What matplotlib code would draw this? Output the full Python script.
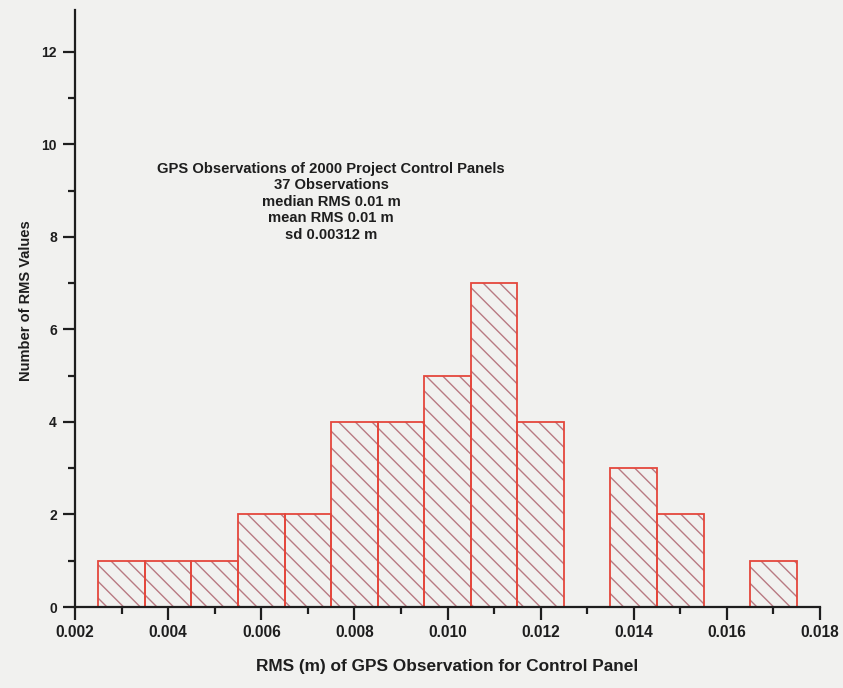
import matplotlib.pyplot as plt
from matplotlib.ticker import MultipleLocator

# RMS histogram of GPS observations (bin centres in metres, counts per bin)
bin_centres = [0.003, 0.004, 0.005, 0.006, 0.007, 0.008, 0.009, 0.010,
               0.011, 0.012, 0.013, 0.014, 0.015, 0.016, 0.017]
counts = [1, 1, 1, 2, 2, 4, 4, 5, 7, 4, 0, 3, 2, 0, 1]
bin_width = 0.001

summary = ["GPS Observations of 2000 Project Control Panels",
           "37 Observations",
           "median RMS 0.01 m",
           "mean RMS 0.01 m",
           "sd 0.00312 m"]

plt.rcParams['font.family'] = ['Liberation Sans', 'DejaVu Sans']
plt.rcParams['hatch.linewidth'] = 1.0

bg = '#f1f1ef'
ink = '#1e1e1e'
fig = plt.figure(figsize=(8.43, 6.88), dpi=100, facecolor=bg)
ax = fig.add_axes([0.089, 0.1177, 0.8837, 0.8677])
ax.set_facecolor(bg)

# hatching first, then the red outlines on top
ax.bar(bin_centres, counts, width=bin_width, fill=False, hatch='\\\\',
       edgecolor='#b87a82', linewidth=0)
ax.bar(bin_centres, counts, width=bin_width, fill=False,
       edgecolor='#e4473c', linewidth=1.3)

ax.set_xlim(0.002, 0.018)
ax.set_ylim(0, 12.9)
ax.xaxis.set_major_locator(MultipleLocator(0.002))
ax.xaxis.set_minor_locator(MultipleLocator(0.001))
ax.yaxis.set_major_locator(MultipleLocator(2))
ax.yaxis.set_minor_locator(MultipleLocator(1))
ax.xaxis.set_major_formatter(plt.FuncFormatter(lambda v, p: f"{v:.3f}"))

for side in ['top', 'right']:
    ax.spines[side].set_visible(False)
for side in ['left', 'bottom']:
    ax.spines[side].set_linewidth(1.6)
    ax.spines[side].set_color(ink)

ax.tick_params(which='major', direction='out', length=9, width=1.6,
               colors=ink)
ax.tick_params(which='minor', direction='out', length=5, width=1.6,
               colors=ink)
ax.tick_params(axis='x', which='major', pad=4, labelsize=11.2)
ax.tick_params(axis='y', which='major', pad=4, labelsize=10)
for lbl in ax.get_xticklabels() + ax.get_yticklabels():
    lbl.set_fontweight('bold')

ax.set_xlabel("RMS (m) of GPS Observation for Control Panel",
              fontsize=12.4, fontweight='bold', color=ink)
ax.set_ylabel("Number of RMS Values", fontsize=10.5, fontweight='bold',
              color=ink)
ax.xaxis.set_label_coords(0.5, -0.087)
ax.yaxis.set_label_coords(-0.057, 0.513)

ax.text(0.0075, 9.62, "\n".join(summary), ha='center', va='top',
        fontsize=10.6, fontweight='bold', color=ink, linespacing=1.23)

fig.savefig('out.png', dpi=100, facecolor=bg)
